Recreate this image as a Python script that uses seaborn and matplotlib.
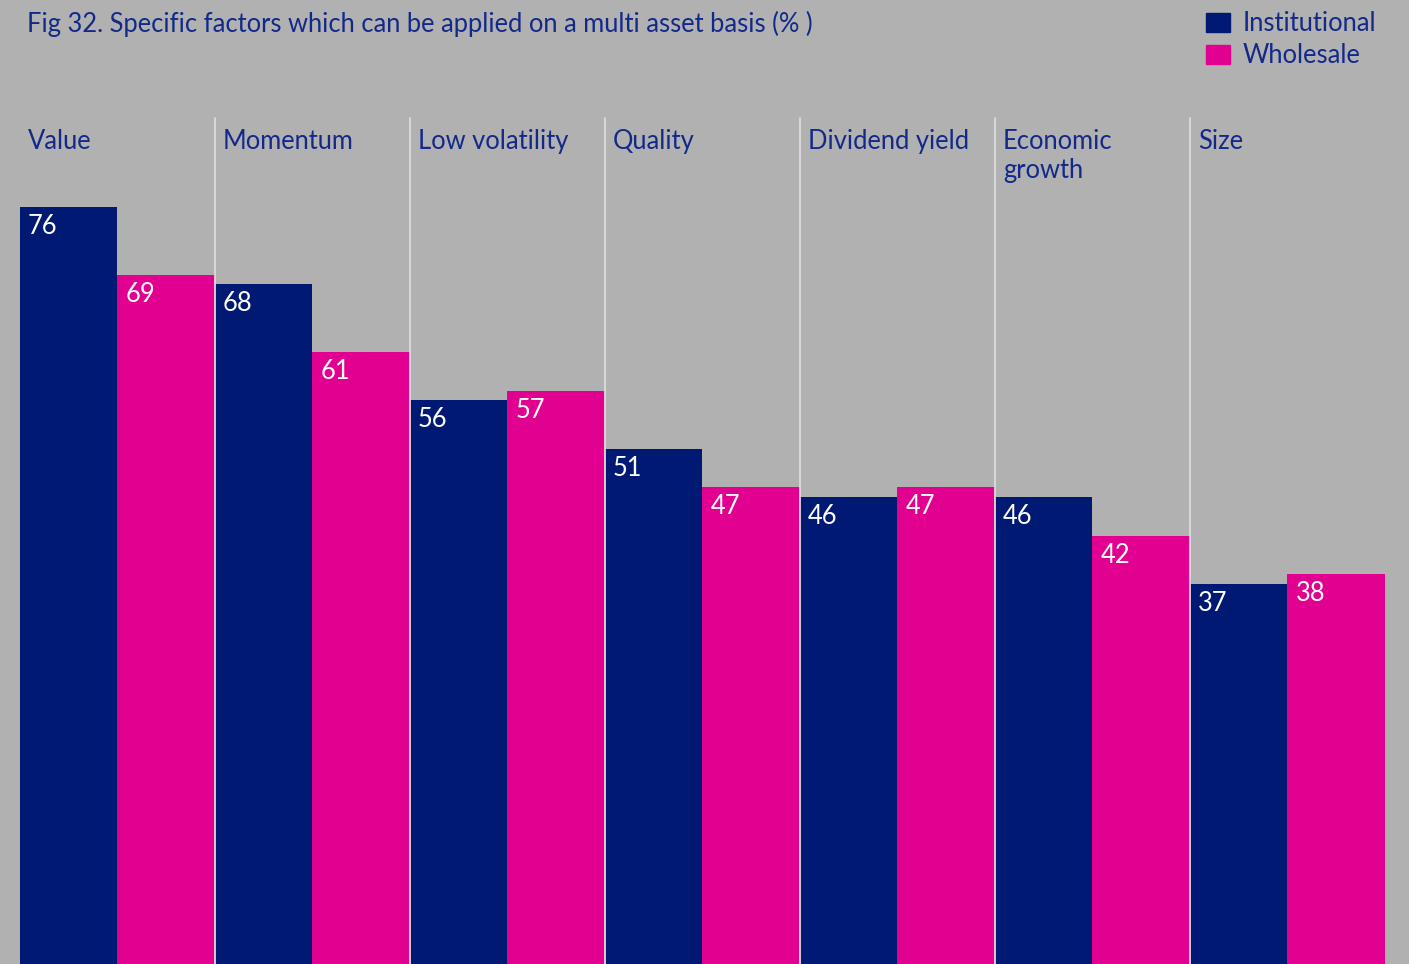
import pandas as pd
import numpy as np
import matplotlib
matplotlib.use("Agg")
import matplotlib.pyplot as plt
import seaborn as sns

factors = ["Value", "Momentum", "Low volatility", "Quality", "Dividend yield",
           "Economic\ngrowth", "Size"]
institutional = [76, 68, 56, 51, 46, 46, 37]
wholesale = [69, 61, 57, 47, 47, 42, 38]
segments = ["Institutional", "Wholesale"]

title = "Fig 32. Specific factors which can be applied on a multi asset basis (% )"

navy = "#001a73"
magenta = "#e1008f"
text_col = "#13298a"
bg = "#b1b1b1"
fs = 18.4

df = pd.DataFrame({
    "factor": factors * 2,
    "segment": [segments[0]] * len(factors) + [segments[1]] * len(factors),
    "value": institutional + wholesale,
})

sns.set_style("white")
plt.rcParams["font.family"] = ["Lato", "DejaVu Sans"]

W, H = 1409, 964
fig = plt.figure(figsize=(W / 100, H / 100), dpi=100, facecolor=bg)
ax = fig.add_axes([20 / W, 0, 1365 / W, 1])
ax.set_facecolor(bg)

sns.barplot(data=df, x="factor", y="value", hue="segment",
            palette=[navy, magenta], width=1.0, saturation=1,
            linewidth=0, ax=ax, legend=False)

ax.set_xlim(-0.5, len(factors) - 0.5)
ax.set_ylim(-2.3, 97.4)

# bars run off the bottom edge of the picture
for cont in ax.containers:
    for p in cont.patches:
        p.set_y(-5)
        p.set_height(p.get_height() + 5)

for spine in ax.spines.values():
    spine.set_visible(False)
ax.set_xticks([])
ax.set_yticks([])
ax.set_xlabel("")
ax.set_ylabel("")

# group separators
for i in range(1, len(factors)):
    ax.axvline(i - 0.5, ymin=0, ymax=1 - 118 / H, color="#dcdcdc",
               linewidth=1.3, zorder=5)

# category headings, first line baseline fixed, extra lines below
line_step = 29 / 9.667
for i, f in enumerate(factors):
    for j, line in enumerate(f.split("\n")):
        ax.text(i - 0.5 + 0.041, 82.0 - j * line_step, line, color=text_col,
                fontsize=fs, va="baseline", ha="left")

# value labels
for cont, vals in zip(ax.containers, [institutional, wholesale]):
    for p, v in zip(cont.patches, vals):
        ax.text(p.get_x() + 0.041, v - 2.8, str(v), color="white",
                fontsize=fs, va="baseline", ha="left", zorder=6)

fig.text(27 / W, 1 - 32 / H, title, color=text_col, fontsize=fs,
         va="baseline", ha="left")

handles = [plt.Rectangle((0, 0), 1, 1, color=navy),
           plt.Rectangle((0, 0), 1, 1, color=magenta)]
fig.legend(handles, segments, loc="upper left",
           bbox_to_anchor=(1206 / W, 1 - 11 / H), frameon=False,
           fontsize=fs, labelcolor=text_col, handlelength=0.94,
           handleheight=0.76, handletextpad=0.5, labelspacing=0.28,
           borderpad=0, borderaxespad=0)

fig.savefig("out.png", dpi=100, facecolor=bg)
